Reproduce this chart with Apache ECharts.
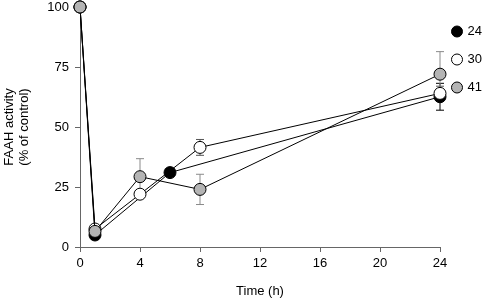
<!DOCTYPE html>
<html><head><meta charset="utf-8">
<script src="https://cdn.jsdelivr.net/npm/echarts@6/dist/echarts.min.js"></script>
<style>html,body{margin:0;padding:0;background:#fff}#c{width:485px;height:300px}</style>
</head><body><div id="c"></div>
<script>
const seriesNames = ['24', '30', '41'];
const time24 = [0, 1, 6, 24];
const val24 = [100, 5, 31, 62.6];
const err24 = [0, 0, 0, 5.6];
const time30 = [0, 1, 4, 8, 24];
const val30 = [100, 7.5, 22, 41.5, 64];
const err30 = [0, 0, 0, 3.3, 3];
const time41 = [0, 1, 4, 8, 24];
const val41 = [100, 6.5, 29.3, 24, 72];
const err41 = [0, 0, 7.5, 6.3, 9.4];
const xTicks = [0, 4, 8, 12, 16, 20, 24];
const yTicks = [0, 25, 50, 75, 100];

const fills = ['#000000', '#ffffff', '#b4b4b4'];
const times = [time24, time30, time41];
const vals = [val24, val30, val41];
const errs = [err24, err30, err41];
const errColors = ['#000000', '#555555', '#8a8a8a'];

const font = 'Liberation Sans, Arial, Helvetica, sans-serif';
const series = [];
seriesNames.forEach((n, i) => {
  const errData = times[i].map((t, k) => [t, vals[i][k], errs[i][k]]).filter(d => d[2] > 0);
  series.push({
    type: 'custom', name: n + '_err', z: 1, silent: true,
    data: errData,
    renderItem: function (params, api) {
      const x = api.value(0), y = api.value(1), e = api.value(2);
      const top = api.coord([x, y + e]);
      const bot = api.coord([x, y - e]);
      const w = 4;
      const st = { stroke: errColors[i], lineWidth: 1 };
      return { type: 'group', children: [
        { type: 'line', shape: { x1: top[0], y1: top[1], x2: bot[0], y2: bot[1] }, style: st },
        { type: 'line', shape: { x1: top[0] - w, y1: top[1], x2: top[0] + w, y2: top[1] }, style: st },
        { type: 'line', shape: { x1: bot[0] - w, y1: bot[1], x2: bot[0] + w, y2: bot[1] }, style: st }
      ]};
    }
  });
});
seriesNames.forEach((n, i) => {
  series.push({
    type: 'line', name: n, z: 5 + i,
    data: times[i].map((t, k) => [t, vals[i][k]]),
    symbol: 'circle', symbolSize: 12,
    lineStyle: { color: '#000', width: 1 },
    itemStyle: { color: fills[i], borderColor: '#000', borderWidth: 1 },
    emphasis: { disabled: true }
  });
});

const chart = echarts.init(document.getElementById('c'), null, { renderer: 'canvas' });
chart.setOption({
  animation: false,
  grid: { left: 80, right: 45, top: 7, bottom: 53, containLabel: false, outerBoundsMode: 'none' },
  legend: {
    data: seriesNames.map((n, i) => ({ name: n, itemStyle: { color: fills[i], borderColor: '#000', borderWidth: 1 } })),
    orient: 'vertical', left: 446, top: 19, itemWidth: 11, itemHeight: 11, itemGap: 13,
    icon: 'circle', textStyle: { fontFamily: font, fontSize: 13, color: '#000', lineHeight: 15 }
  },
  xAxis: {
    type: 'value', min: 0, max: 24, interval: 4,
    name: 'Time (h)', nameLocation: 'middle', nameGap: 38,
    nameTextStyle: { fontFamily: font, fontSize: 13, color: '#000' },
    axisLine: { lineStyle: { color: '#666', width: 1 } },
    axisTick: { length: 5, lineStyle: { color: '#666' } },
    axisLabel: { fontFamily: font, fontSize: 13, color: '#000', margin: 10,
      formatter: v => xTicks.includes(v) ? String(v) : '' },
    splitLine: { show: false }
  },
  yAxis: {
    type: 'value', min: 0, max: 100, interval: 25,
    name: 'FAAH activity\n(% of control)', nameLocation: 'middle', nameGap: 48,
    nameTextStyle: { fontFamily: font, fontSize: 13, color: '#000', lineHeight: 15 },
    axisLine: { show: true, lineStyle: { color: '#666', width: 1 } },
    axisTick: { show: true, length: 5, lineStyle: { color: '#666' } },
    axisLabel: { fontFamily: font, fontSize: 13, color: '#000', margin: 11,
      formatter: v => yTicks.includes(v) ? String(v) : '' },
    splitLine: { show: false }
  },
  series: series
});
</script></body></html>
